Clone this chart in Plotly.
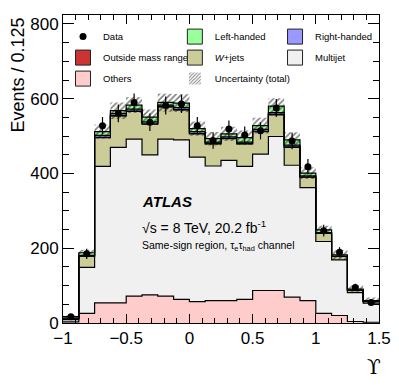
"""Same-sign region Upsilon distribution, ATLAS style stacked histogram."""

import math
import plotly.graph_objects as go

# Binning: 20 bins of width 0.125 from -1 to 1.5
BIN_LO = -1.0
BIN_W = 0.125
NBINS = 20

# Observed events per bin
data_counts = [17, 185, 528, 561, 590, 537, 582, 586, 528, 488,
               519, 503, 514, 575, 487, 418, 247, 189, 95, 55]

# Stacked predictions, bottom to top
others = [3, 26, 54, 54, 72, 75, 72, 63, 57, 60,
          60, 63, 87, 87, 69, 60, 26, 20, 4, 2]
multijet = [6, 123, 365, 416, 420, 375, 420, 427, 387, 360,
            375, 356, 365, 412, 353, 302, 192, 149, 77, 51]
wjets = [4, 30, 77, 84, 74, 82, 86, 80, 62, 59,
         58, 60, 60, 58, 48, 28, 22, 9, 7, 5]
outside_mass = [0, 0, 1, 1, 1, 1, 1, 1, 1, 1,
                1, 1, 1, 1, 1, 1, 0, 0, 0, 0]
right_handed = [0, 2, 5, 5, 5, 5, 4, 5, 5, 4,
                4, 4, 5, 5, 5, 3, 2, 1, 1, 0]
left_handed = [4, 7, 10, 8, 11, 13, 7, 12, 8, 9,
               8, 12, 10, 17, 14, 7, 7, 3, 2, 2]

# Total uncertainty on the prediction
total_unc = [3, 8, 19, 22, 21, 20, 24, 24, 19, 18,
             19, 19, 21, 21, 20, 16, 11, 13, 9, 8]

edges = [BIN_LO + BIN_W * i for i in range(NBINS + 1)]
centers = [BIN_LO + BIN_W * (i + 0.5) for i in range(NBINS)]

FONT = "Liberation Sans, Arial, Helvetica, sans-serif"

stack = [
    ("Others", others, "#FFCCCC"),
    ("Multijet", multijet, "#F0F0F0"),
    ("<i>W</i>+jets", wjets, "#CCCC99"),
    ("Outside mass range", outside_mass, "#CC3333"),
    ("Right-handed", right_handed, "#9999FF"),
    ("Left-handed", left_handed, "#99FF99"),
]

fig = go.Figure()

# Filled step histograms, cumulated
cum = [0] * NBINS
for i, (name, vals, color) in enumerate(stack):
    cum = [c + v for c, v in zip(cum, vals)]
    fig.add_trace(go.Scatter(
        x=edges, y=cum + [cum[-1]],
        mode="lines", line=dict(shape="hv", color="black", width=1.2),
        fill="tozeroy" if i == 0 else "tonexty",
        fillcolor=color, showlegend=False, hoverinfo="skip",
    ))
total = cum

# Hatched uncertainty band around the total
bx, by = [], []
for i in range(NBINS):
    bx += [edges[i], edges[i + 1]]
    by += [total[i] + total_unc[i]] * 2
for i in reversed(range(NBINS)):
    bx += [edges[i + 1], edges[i]]
    by += [total[i] - total_unc[i]] * 2
fig.add_trace(go.Scatter(
    x=bx, y=by, mode="lines", line=dict(width=0),
    fill="toself", fillcolor="rgba(0,0,0,0)",
    fillpattern=dict(shape="/", fgcolor="black", bgcolor="rgba(0,0,0,0)",
                     size=4, solidity=0.4),
    showlegend=False, hoverinfo="skip",
))

# Data points
fig.add_trace(go.Scatter(
    x=centers, y=data_counts, mode="markers", name="Data",
    marker=dict(color="black", size=7),
    error_y=dict(type="data", array=[math.sqrt(v) for v in data_counts],
                 color="black", thickness=1.2, width=0),
    legend="legend", legendgroup="data", legendrank=1,
))

# Legend entries (three columns)
legend_items = [
    ("legend", "Outside mass range", "#CC3333", 2),
    ("legend", "Others", "#FFCCCC", 3),
    ("legend2", "Left-handed", "#99FF99", 1),
    ("legend2", "<i>W</i>+jets", "#CCCC99", 2),
    ("legend3", "Right-handed", "#9999FF", 1),
    ("legend3", "Multijet", "#F0F0F0", 2),
]
for leg, name, color, rank in legend_items:
    fig.add_trace(go.Scatter(
        x=[None], y=[None], mode="markers", name=name, legend=leg,
        legendrank=rank, legendgroup=name,
        marker=dict(symbol="square", size=15, color=color,
                    line=dict(color="#222222", width=1)),
    ))
fig.add_trace(go.Bar(
    x=[None], y=[None], name="Uncertainty (total)", legend="legend2",
    legendrank=3, legendgroup="unc",
    marker=dict(color="white", line=dict(width=0),
                pattern=dict(shape="/", fgcolor="black", bgcolor="white",
                             size=3, solidity=0.4)),
))

legend_common = dict(
    bgcolor="rgba(0,0,0,0)", borderwidth=0, yanchor="top", xanchor="left",
    font=dict(family=FONT, size=9.5, color="black"), tracegroupgap=2,
)

# the page adds an 8 px body margin, so the figure is 8 px smaller
fig.update_layout(
    width=391, height=377,
    margin=dict(l=55, r=20, t=7, b=62),
    paper_bgcolor="white", plot_bgcolor="white",
    font=dict(family=FONT, color="black"),
    barmode="overlay",
    legend=dict(x=0.0, y=0.977, **legend_common),
    legend2=dict(x=0.354, y=0.977, **legend_common),
    legend3=dict(x=0.671, y=0.977, **legend_common),
    xaxis=dict(
        type="linear", range=[-1, 1.5], tick0=-1, dtick=0.5,
        ticks="inside", ticklen=9, tickcolor="black",
        minor=dict(dtick=0.1, ticks="inside", ticklen=5, tickcolor="black"),
        showline=True, linecolor="black", linewidth=1, mirror="allticks",
        showgrid=False, zeroline=False, tickfont=dict(size=17),
        automargin=False,
    ),
    yaxis=dict(
        range=[0, 824], tick0=0, dtick=200,
        ticks="inside", ticklen=11, tickcolor="black",
        minor=dict(dtick=50, ticks="inside", ticklen=6, tickcolor="black"),
        showline=True, linecolor="black", linewidth=1, mirror="allticks",
        showgrid=False, zeroline=False, tickfont=dict(size=17),
        automargin=False,
    ),
    annotations=[
        dict(text="Events / 0.125", textangle=-90, xref="paper", yref="paper",
             x=-0.142, y=0.997, xanchor="center", yanchor="top",
             showarrow=False, font=dict(size=18)),
        dict(text="ϒ", xref="paper", yref="paper", x=0.984, y=-0.143,
             xanchor="center", yanchor="middle", showarrow=False,
             font=dict(size=20, family="DejaVu Serif, serif")),
        dict(text="<b><i>ATLAS</i></b>", xref="paper", yref="paper",
             x=0.2437, y=0.393, xanchor="left", yanchor="middle",
             showarrow=False, font=dict(size=15)),
        dict(text="√s = 8 TeV, 20.2 fb<sup>-1</sup>", xref="paper", yref="paper",
             x=0.2437, y=0.312, xanchor="left", yanchor="middle",
             showarrow=False, font=dict(size=14)),
        dict(text="Same-sign region, τ<sub>e</sub>τ<sub>had</sub> channel",
             xref="paper", yref="paper", x=0.2437, y=0.25,
             xanchor="left", yanchor="middle", showarrow=False,
             font=dict(size=10.5)),
    ],
)

fig.write_html("out.html")
